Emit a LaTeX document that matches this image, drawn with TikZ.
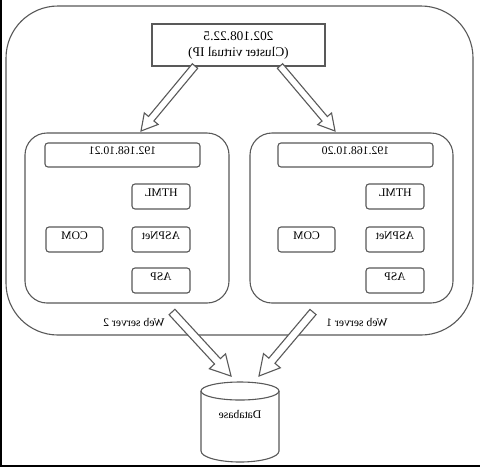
\documentclass[tikz,border=0pt]{standalone}
\usepackage{fontspec}
\setmainfont{Liberation Serif}
\usetikzlibrary{calc,fit}
\begin{document}
\begin{tikzpicture}[x=0.5pt,y=-0.5pt,
  ln/.style={draw=black!65, line width=0.55pt},
  box/.style={ln, rounded corners=1.5pt, inner sep=0pt, fill=white,
    font=\fontsize{5.85pt}{7pt}\selectfont},
  server/.style={ln, rounded corners=11pt, inner sep=0pt},
  lbl/.style={font=\fontsize{5.85pt}{7pt}\selectfont, inner sep=0pt},
  hollow/.style n args={3}{ln, fill=white, line join=miter, to path={
    ($(\tikztotarget)!#3!(\tikztostart)$) coordinate (hB)
    ($(\tikztostart)!#1!90:(\tikztotarget)$)
    -- ($(hB)!#1!90:(\tikztotarget)$)
    -- ($(hB)!#2!90:(\tikztotarget)$)
    -- (\tikztotarget)
    -- ($(hB)!#2!-90:(\tikztotarget)$)
    -- ($(hB)!#1!-90:(\tikztotarget)$)
    -- ($(\tikztostart)!#1!-90:(\tikztotarget)$) -- cycle}}]
\useasboundingbox (0,0) rectangle (480,467);
\fill[white] (0,0) rectangle (480,467);
% frame edges
\draw[line width=1pt] (1,0) -- (1,467);
\draw[line width=1pt] (0,466) -- (480,466);

% outer cluster
\node[ln, rounded corners=26pt, inner sep=0pt, fit={(6,6) (473,335)}] (outer) {};

% top virtual IP box
\node[ln, fill=white, inner sep=0pt, fit={(152,24) (325,66)}] (vip) {};
\node[align=center, inner sep=0pt, font=\fontsize{6.65pt}{8pt}\selectfont] (viptext) at (vip.center)
  {\reflectbox{202.108.22.5}\\\reflectbox{(Cluster virtual IP)}};

% server boxes
\node[server, fit={(25,133) (229,303)}] (s2) {};
\node[server, fit={(250,133) (453,303)}] (s1) {};

% left server (Web server 2)
\node[box, fit={(45,143) (200,167)}] (ip2) {\reflectbox{192.168.10.21}};
\node[box, fit={(132,184) (190,209)}] (html2) {\reflectbox{HTML}};
\node[box, fit={(132,227) (190,252)}] (aspnet2) {\reflectbox{ASPNet}};
\node[box, fit={(46,227) (103,252)}] (com2) {\reflectbox{COM}};
\node[box, fit={(132,268) (190,293)}] (asp2) {\reflectbox{ASP}};

% right server (Web server 1)
\node[box, fit={(278,143) (433,167)}] (ip1) {\reflectbox{192.168.10.20}};
\node[box, fit={(366,184) (424,209)}] (html1) {\reflectbox{HTML}};
\node[box, fit={(366,227) (424,252)}] (aspnet1) {\reflectbox{ASPNet}};
\node[box, fit={(278,227) (335,252)}] (com1) {\reflectbox{COM}};
\node[box, fit={(366,268) (424,293)}] (asp1) {\reflectbox{ASP}};

% labels
\node[lbl] (lab2) at (134,323) {\reflectbox{Web server 2}};
\node[lbl] (lab1) at (357,323) {\reflectbox{Web server 1}};

% database cylinder
\node[lbl] (db) at (240,414) {\reflectbox{Database}};
\draw[ln] (240,391) ellipse [x radius=39, y radius=9];
\draw[ln] (201,391) -- (201,451) arc[start angle=180, end angle=0, x radius=39, y radius=11] -- (279,391);

% arrow end points
\coordinate (a1s) at (195,66);
\coordinate (a1t) at (141,131);
\coordinate (a2s) at (280,66);
\coordinate (a2t) at (335,131);
\coordinate (b1s) at (172,312);
\coordinate (b1t) at (231,376);
\coordinate (b2s) at (313,312);
\coordinate (b2t) at (259,376);

\draw[hollow={1.75pt}{4.5pt}{8pt}] (a1s) to (a1t);
\draw[hollow={1.75pt}{4.5pt}{8pt}] (a2s) to (a2t);
\draw[hollow={2pt}{5.5pt}{10pt}] (b1s) to (b1t);
\draw[hollow={2pt}{5.5pt}{10pt}] (b2s) to (b2t);
\end{tikzpicture}
\end{document}
